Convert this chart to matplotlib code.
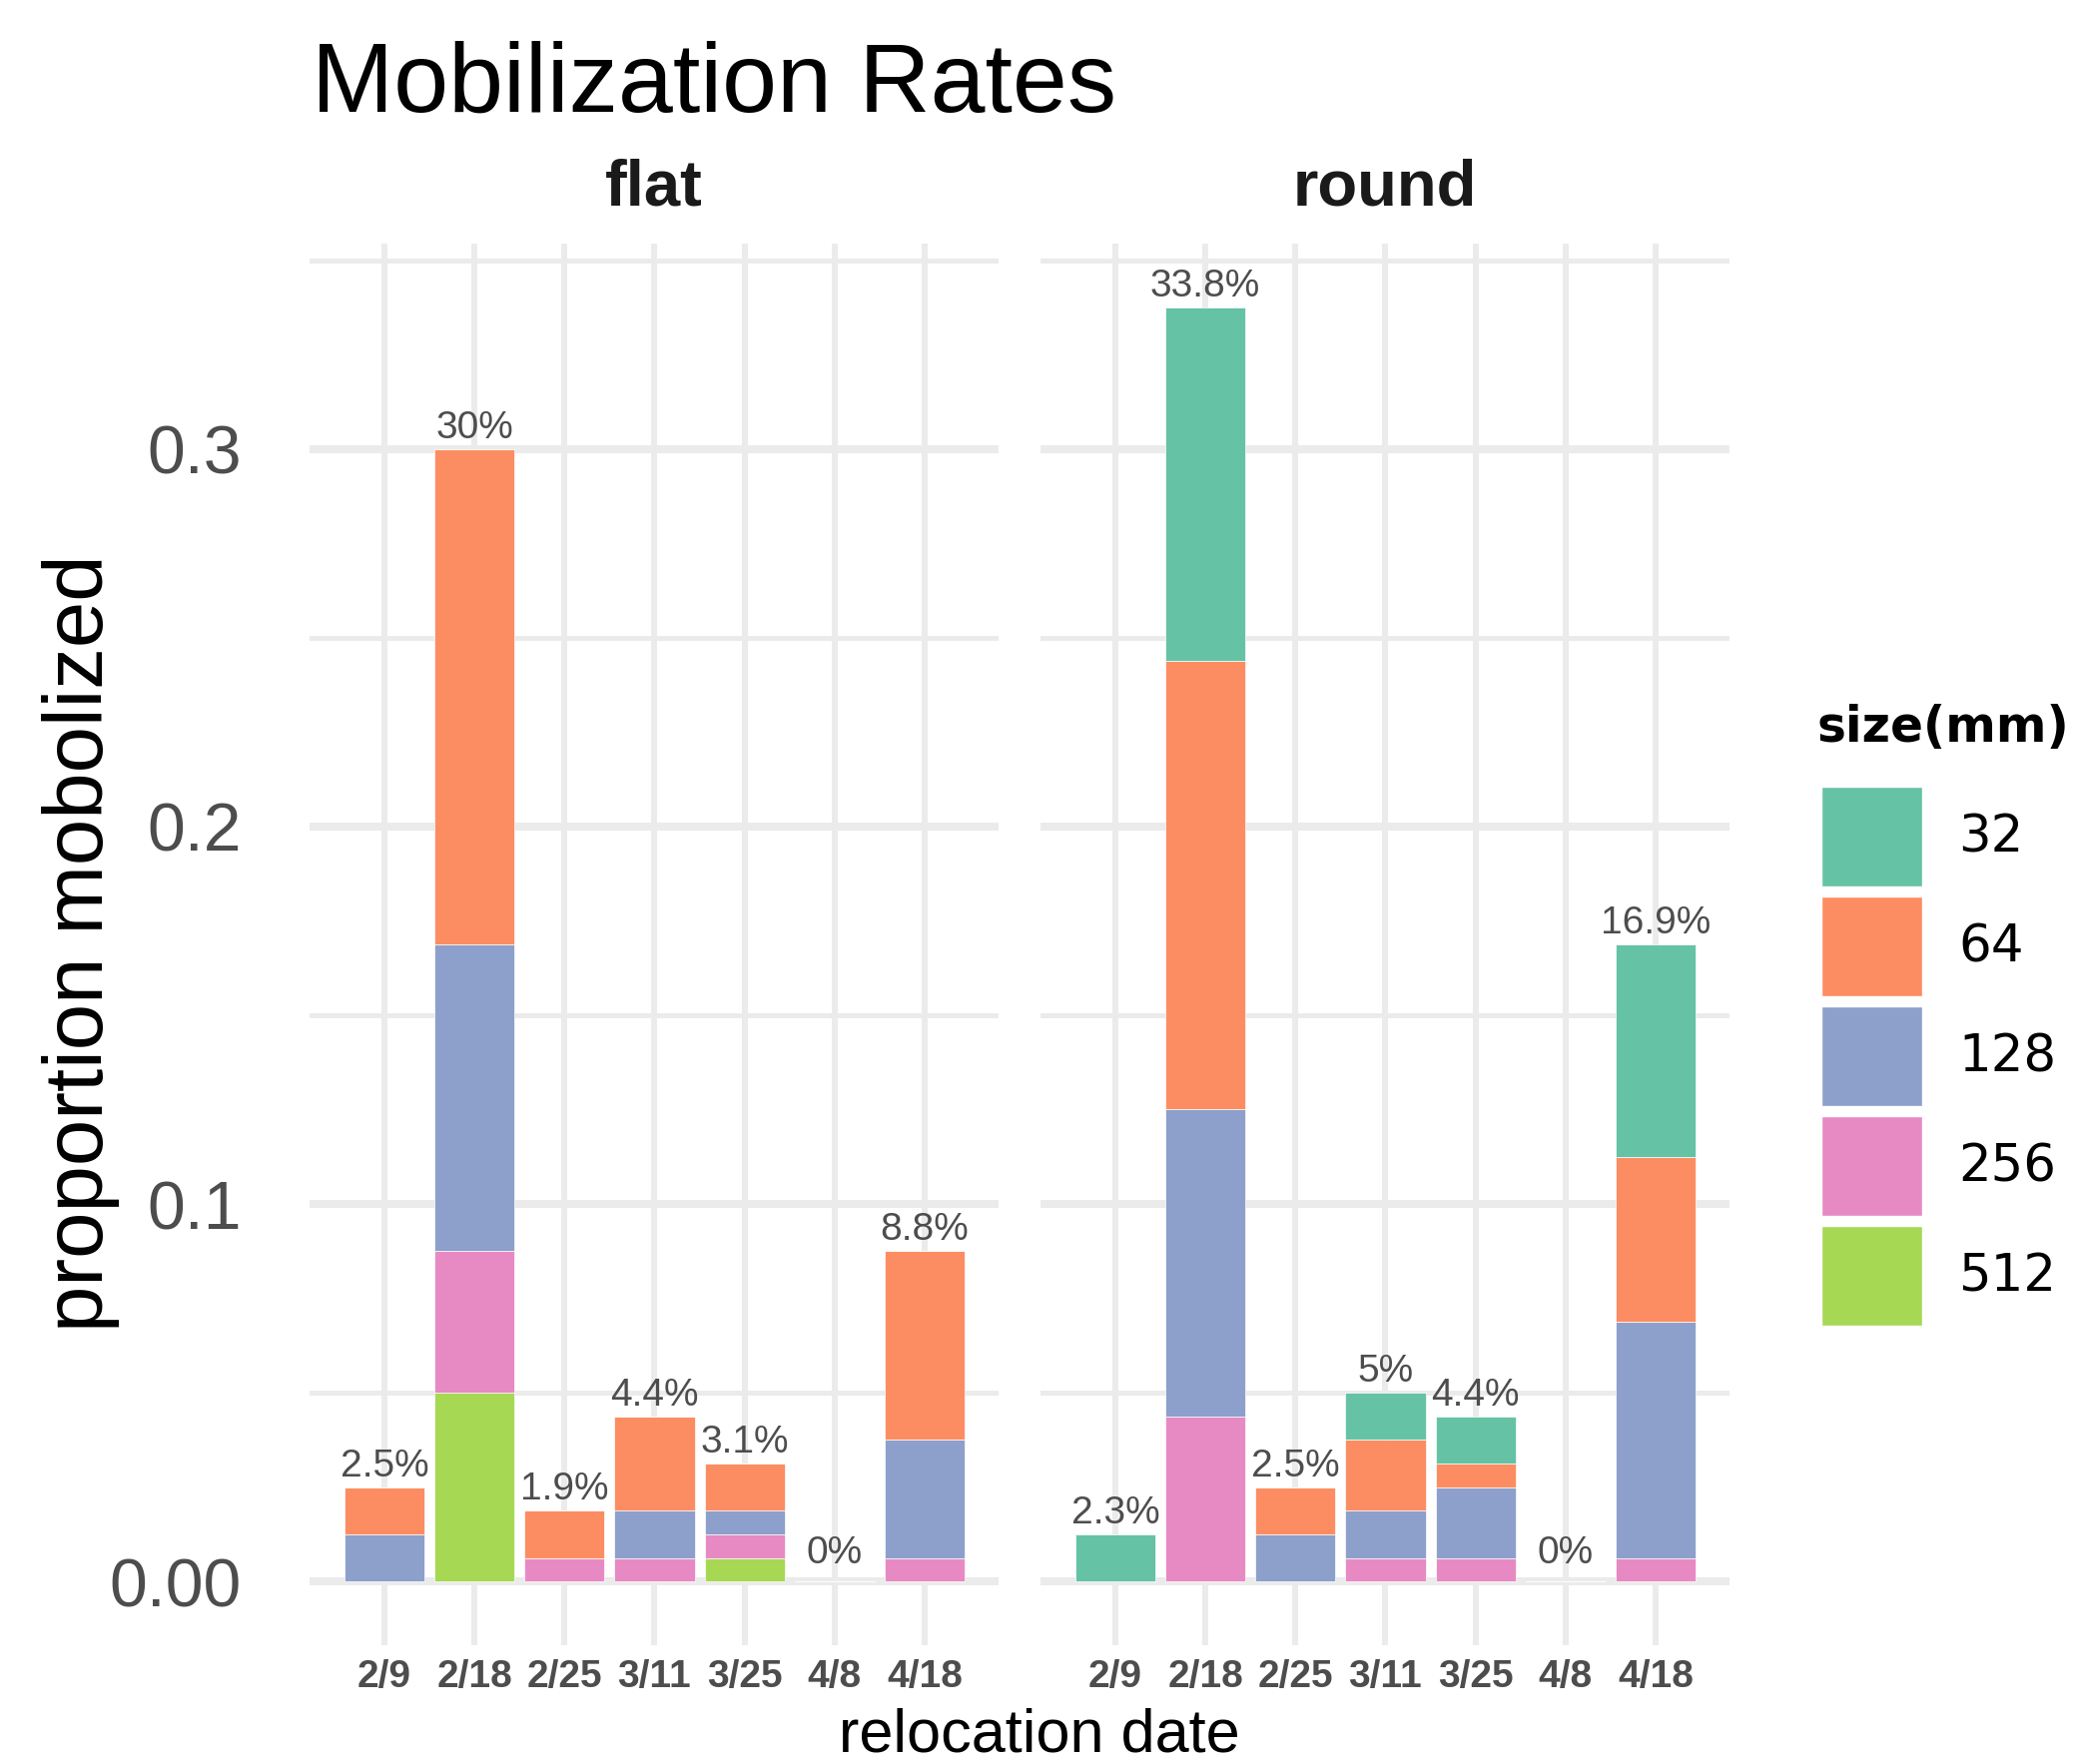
import numpy as np
import matplotlib
matplotlib.use('Agg')
import matplotlib.pyplot as plt
from matplotlib.patches import Patch

plt.rcParams['font.family'] = ['Liberation Sans', 'DejaVu Sans']

dates = ['2/9', '2/18', '2/25', '3/11', '3/25', '4/8', '4/18']
sizes = ['32', '64', '128', '256', '512']
colors = ['#66C2A5', '#FC8D62', '#8DA0CB', '#E78AC3', '#A6D854']
panels = ['flat', 'round']

# proportion mobilized, one list per size class
flat_32 = [0, 0, 0, 0, 0, 0, 0]
flat_64 = [0.0125, 0.13125, 0.0125, 0.025, 0.0125, 0, 0.05]
flat_128 = [0.0125, 0.08125, 0, 0.0125, 0.00625, 0, 0.03125]
flat_256 = [0, 0.0375, 0.00625, 0.00625, 0.00625, 0, 0.00625]
flat_512 = [0, 0.05, 0, 0, 0.00625, 0, 0]

round_32 = [0.0125, 0.09375, 0, 0.0125, 0.0125, 0, 0.05625]
round_64 = [0, 0.11875, 0.0125, 0.01875, 0.00625, 0, 0.04375]
round_128 = [0, 0.08125, 0.0125, 0.0125, 0.01875, 0, 0.0625]
round_256 = [0, 0.04375, 0, 0.00625, 0.00625, 0, 0.00625]
round_512 = [0, 0, 0, 0, 0, 0, 0]

flat_labels = ['2.5%', '30%', '1.9%', '4.4%', '3.1%', '0%', '8.8%']
round_labels = ['2.3%', '33.8%', '2.5%', '5%', '4.4%', '0%', '16.9%']

ytick_vals = [0, 0.1, 0.2, 0.3]
ytick_labels = ['0.00', '0.1', '0.2', '0.3']
yminor_vals = [0.05, 0.15, 0.25, 0.35]

series = {
    'flat': [flat_32, flat_64, flat_128, flat_256, flat_512],
    'round': [round_32, round_64, round_128, round_256, round_512],
}
labels = {'flat': flat_labels, 'round': round_labels}

W, H = 2078, 1767
fig = plt.figure(figsize=(W / 100, H / 100), dpi=100)

grid_c = '#EBEBEB'
txt_c = '#4D4D4D'
lefts = [310, 1042]
ax_w = 690
ax_top, ax_bot = 244, 1648

x = np.arange(len(dates))
for i, name in enumerate(panels):
    ax = fig.add_axes([lefts[i] / W, 1 - ax_bot / H, ax_w / W, (ax_bot - ax_top) / H])
    ax.set_axisbelow(True)
    bottom = np.zeros(len(dates))
    # ggplot stacks first level on top, so draw from the last size upward
    for vals, col in reversed(list(zip(series[name], colors))):
        vals = np.array(vals)
        ax.bar(x, vals, width=0.89, bottom=bottom, color=col,
               edgecolor='white', linewidth=0.5)
        bottom = bottom + vals
    for xi, tot, lab in zip(x, bottom, labels[name]):
        off = 8 if tot > 0 else 13
        ax.annotate(lab, (xi, tot), xytext=(0, off), textcoords='offset points',
                    ha='center', va='baseline', fontsize=28, color=txt_c)

    ax.set_xlim(-0.83, 6.82)
    ax.set_ylim(-0.016875, 0.354375)
    ax.set_xticks(x)
    ax.set_xticklabels(dates, fontsize=28, fontweight='bold', color=txt_c)
    ax.set_yticks(ytick_vals)
    ax.set_yticks(yminor_vals, minor=True)
    if i == 0:
        ax.set_yticklabels(ytick_labels, fontsize=49, color=txt_c)
    else:
        ax.set_yticklabels([])
    ax.tick_params(axis='both', which='both', length=0)
    ax.tick_params(axis='x', pad=10)
    ax.tick_params(axis='y', pad=49)
    ax.grid(axis='y', which='major', color=grid_c, linewidth=5.8)
    ax.grid(axis='y', which='minor', color=grid_c, linewidth=3.6)
    ax.grid(axis='x', which='major', color=grid_c, linewidth=4.3)
    for s in ax.spines.values():
        s.set_visible(False)
    ax.text(0.5, 1 + (ax_top - 205) / (ax_bot - ax_top), name,
            transform=ax.transAxes, ha='center', va='baseline',
            fontsize=47, fontweight='bold', color='#1A1A1A')

fig.text(312 / W, 1 - 112 / H, 'Mobilization Rates', fontsize=71,
         ha='left', va='baseline', color='black')
fig.text(1041 / W, 1 - 1754 / H, 'relocation date', fontsize=44,
         ha='center', va='baseline', color='black')
fig.text(81 / W, 1 - 945 / H, 'proportion mobolized', fontsize=60,
         rotation=90, ha='center', va='center', color='black')

# legend
fig.text(1819 / W, 1 - 743 / H, 'size(mm)', fontsize=35, fontweight='bold',
         family=['DejaVu Sans'], ha='left', va='baseline', color='black')
handles = [Patch(facecolor=c, edgecolor='white', linewidth=1) for c in colors]
fig.legend(handles, sizes, loc='upper left', bbox_to_anchor=(1824 / W, 1 - 788 / H),
           frameon=False, borderpad=0, borderaxespad=0,
           prop={'family': 'DejaVu Sans', 'size': 37},
           handlelength=1.965, handleheight=2.615, labelspacing=0.195,
           handletextpad=0.7)

fig.savefig('out.png', dpi=100, facecolor='white')
